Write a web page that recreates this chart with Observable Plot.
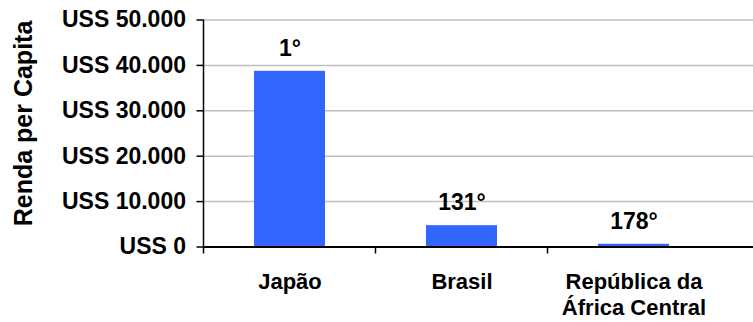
<!DOCTYPE html>
<html>
<head>
<meta charset="utf-8">
<script src="https://cdn.jsdelivr.net/npm/d3@7"></script>
<script src="https://cdn.jsdelivr.net/npm/@observablehq/plot@0.6"></script>
<style>
  html, body { margin: 0; padding: 0; background: #fff; }
  #chart svg { display: block; }
</style>
</head>
<body>
<div id="chart"></div>
<script>
// Renda per capita (US$) and world ranking for three countries
const countries = ["Japão", "Brasil", "República da\nÁfrica Central"];
const incomes = [38700, 4700, 600];
const ranks = ["1°", "131°", "178°"];
const yTicks = [0, 10000, 20000, 30000, 40000, 50000];
const yLabel = "Renda per Capita";

const data = countries.map((c, i) => ({country: c, income: incomes[i], rank: ranks[i]}));

// Brazilian number format: thousands separated by "."
const ptBR = d3.formatLocale({decimal: ",", thousands: ".", grouping: [3], currency: ["", ""]});
const fmt = ptBR.format(",");

const font = "'Liberation Sans', Arial, sans-serif";

// Y axis line plus category boundary ticks under the baseline
function axisDecor(index, scales, values, dims) {
  const g = d3.create("svg:g");
  const x = scales.x, y = scales.y;
  const y0 = y(0);
  g.append("line")
    .attr("x1", dims.marginLeft).attr("x2", dims.marginLeft)
    .attr("y1", y(yTicks[yTicks.length - 1])).attr("y2", y0 + 7)
    .attr("stroke", "#000").attr("stroke-width", 1.5);
  const half = (x.step() - x.bandwidth()) / 2;
  for (const c of countries) {
    const bx = x(c) - half;
    if (bx > dims.marginLeft + 1) {
      g.append("line")
        .attr("x1", bx).attr("x2", bx)
        .attr("y1", y0).attr("y2", y0 + 7)
        .attr("stroke", "#000").attr("stroke-width", 1.5);
    }
  }
  return g.node();
}

const chart = Plot.plot({
  width: 753,
  height: 322,
  marginLeft: 203.5,
  marginRight: 0,
  marginTop: 19.5,
  marginBottom: 75.5,
  style: {fontFamily: font, fontWeight: "bold", color: "#000", background: "#fff"},
  x: {domain: countries, range: [203.5, 719.5], paddingInner: 0.59, paddingOuter: 0.295},
  y: {domain: [0, 50000]},
  marks: [
    Plot.ruleY(yTicks.slice(1), {stroke: "#c0c0c0", strokeWidth: 1.5}),
    Plot.barY(data, {x: "country", y: "income", fill: "#3366ff"}),
    Plot.ruleY([0], {stroke: "#000", strokeWidth: 2}),
    axisDecor,
    Plot.text(data, {x: "country", y: "income", text: "rank", dy: -23, fontSize: 23, fontWeight: "bold", fill: "#000"}),
    Plot.axisY({
      ticks: yTicks, tickFormat: d => "USS " + fmt(d), tickSize: 7, tickPadding: 11,
      fontSize: 23, fontWeight: "bold", stroke: "#000", strokeWidth: 1.5, label: null
    }),
    Plot.text([yLabel], {
      frameAnchor: "left", textAnchor: "middle", lineAnchor: "middle", rotate: -90,
      dx: -180.5, dy: -10, fontSize: 25, fontWeight: "bold", fill: "#000"
    }),
    Plot.axisX({tickSize: 0, tickPadding: 24, fontSize: 22, fontWeight: "bold", lineHeight: 1.18, label: null})
  ]
});

document.getElementById("chart").append(chart);
</script>
</body>
</html>
